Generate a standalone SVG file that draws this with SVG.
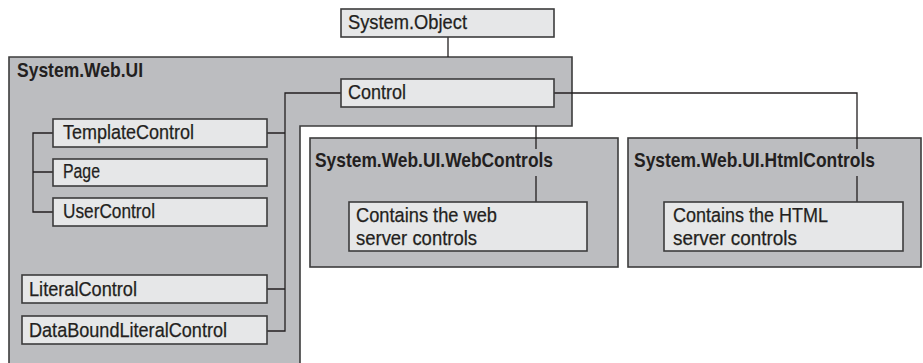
<svg xmlns="http://www.w3.org/2000/svg" width="923" height="363" viewBox="0 0 923 363">
<style>
.bg{fill:#ffffff}
.region{fill:#bcbdc0;stroke:#3c3c3c;stroke-width:1.6}
.box{fill:#e6e7e8;stroke:#3c3c3c;stroke-width:1.6}
.t{font-family:"Liberation Sans Narrow","Liberation Sans",Arial,sans-serif;font-size:20.5px;fill:#231f20;stroke:#231f20;stroke-width:0.25}
.b{font-family:"Liberation Sans Narrow","Liberation Sans",Arial,sans-serif;font-size:20.5px;font-weight:bold;fill:#231f20}
.c{fill:none;stroke:#231f20;stroke-width:1.3}
</style>
<rect class="bg" x="0" y="0" width="923" height="363"/>
<g id="region-webui">
<polygon class="region" points="9,57 572,57 572,126 300,126 300,372 9,372"/>
<text class="b" x="17" y="77" textLength="126" lengthAdjust="spacingAndGlyphs">System.Web.UI</text>
</g>
<g id="region-webcontrols">
<rect class="region" x="310" y="138" width="308" height="129"/>
<text class="b" x="315" y="167" textLength="238" lengthAdjust="spacingAndGlyphs">System.Web.UI.WebControls</text>
</g>
<g id="region-htmlcontrols">
<rect class="region" x="628" y="138" width="293" height="129"/>
<text class="b" x="634" y="167" textLength="241" lengthAdjust="spacingAndGlyphs">System.Web.UI.HtmlControls</text>
</g>
<g id="connectors">
<path class="c" d="M448,37 V57"/>
<path class="c" d="M554,93 H857 V149 M857,176 V202"/>
<path class="c" d="M536,126 V149 M536,176 V202"/>
<path class="c" d="M341,93 H285 V331 H267 M267,133 H285 M267,289 H285"/>
<path class="c" d="M53,133 H33 V212 H53 M33,172 H53"/>
</g>
<g id="node-object">
<rect class="box" x="341" y="9" width="213" height="28"/>
<text class="t" x="348" y="29" textLength="119" lengthAdjust="spacingAndGlyphs">System.Object</text>
</g>
<g id="node-control">
<rect class="box" x="341" y="79" width="213" height="28"/>
<text class="t" x="348" y="99" textLength="58" lengthAdjust="spacingAndGlyphs">Control</text>
</g>
<g id="node-templatecontrol">
<rect class="box" x="53" y="119" width="214" height="28"/>
<text class="t" x="63" y="139" textLength="131" lengthAdjust="spacingAndGlyphs">TemplateControl</text>
</g>
<g id="node-page">
<rect class="box" x="53" y="159" width="214" height="27"/>
<text class="t" x="63" y="178" textLength="37" lengthAdjust="spacingAndGlyphs">Page</text>
</g>
<g id="node-usercontrol">
<rect class="box" x="53" y="198" width="214" height="28"/>
<text class="t" x="63" y="218" textLength="92" lengthAdjust="spacingAndGlyphs">UserControl</text>
</g>
<g id="node-literalcontrol">
<rect class="box" x="22" y="275" width="245" height="28"/>
<text class="t" x="29" y="296" textLength="108" lengthAdjust="spacingAndGlyphs">LiteralControl</text>
</g>
<g id="node-databoundliteralcontrol">
<rect class="box" x="22" y="316" width="245" height="28"/>
<text class="t" x="29" y="337" textLength="198" lengthAdjust="spacingAndGlyphs">DataBoundLiteralControl</text>
</g>
<g id="node-webdesc">
<rect class="box" x="349" y="202" width="238" height="49"/>
<text class="t" x="356" y="222" textLength="141" lengthAdjust="spacingAndGlyphs">Contains the web</text>
<text class="t" x="356" y="245" textLength="121" lengthAdjust="spacingAndGlyphs">server controls</text>
</g>
<g id="node-htmldesc">
<rect class="box" x="664" y="202" width="239" height="49"/>
<text class="t" x="673" y="222" textLength="155" lengthAdjust="spacingAndGlyphs">Contains the HTML</text>
<text class="t" x="673" y="245" textLength="124" lengthAdjust="spacingAndGlyphs">server controls</text>
</g>
</svg>
